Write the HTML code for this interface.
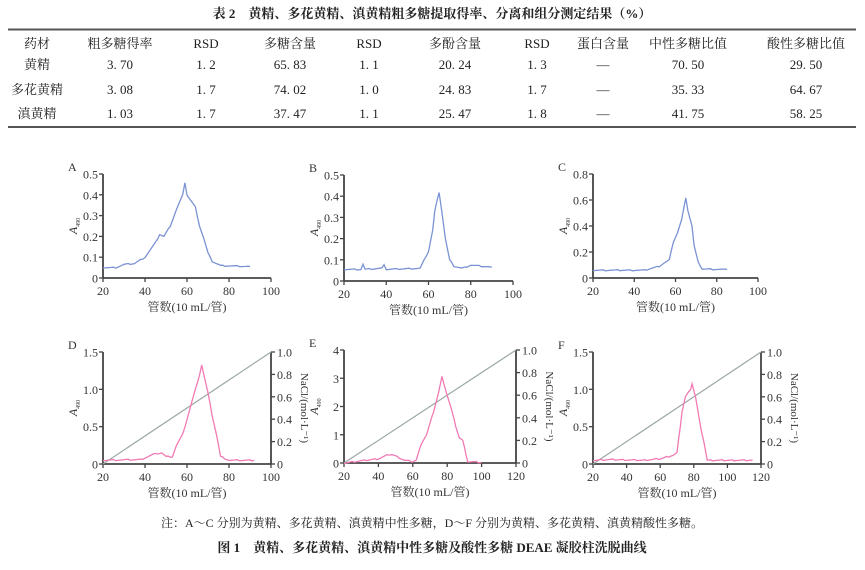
<!DOCTYPE html>
<html><head><meta charset="utf-8"><style>
body{margin:0;background:#fff;}
svg text{font-family:"Liberation Serif","Noto Serif CJK SC",serif;}
</style></head><body>
<svg id="s" width="865" height="565" viewBox="0 0 865 565" xmlns="http://www.w3.org/2000/svg">
<text x="432" y="18" text-anchor="middle" font-size="13" font-weight="bold" fill="#222" font-family="Liberation Sans, Noto Sans CJK SC, sans-serif">表 2　黄精、多花黄精、滇黄精粗多糖提取得率、分离和组分测定结果（%）</text>
<line x1="8" y1="29.5" x2="856" y2="29.5" stroke="#555" stroke-width="2"/>
<line x1="8" y1="127" x2="856" y2="127" stroke="#555" stroke-width="2"/>
<g font-size="13" fill="#222" text-anchor="middle" font-family="Liberation Sans, Noto Sans CJK SC, sans-serif">
<text x="37" y="48">药材</text><text x="120" y="48">粗多糖得率</text><text x="206" y="48">RSD</text><text x="290" y="48">多糖含量</text><text x="369" y="48">RSD</text><text x="455" y="48">多酚含量</text><text x="537" y="48">RSD</text><text x="603" y="48">蛋白含量</text><text x="688" y="48">中性多糖比值</text><text x="806" y="48">酸性多糖比值</text>
<text x="37" y="69">黄精</text><text x="120" y="69">3. 70</text><text x="206" y="69">1. 2</text><text x="290" y="69">65. 83</text><text x="369" y="69">1. 1</text><text x="455" y="69">20. 24</text><text x="537" y="69">1. 3</text><text x="603" y="69">—</text><text x="688" y="69">70. 50</text><text x="806" y="69">29. 50</text>
<text x="37" y="94">多花黄精</text><text x="120" y="94">3. 08</text><text x="206" y="94">1. 7</text><text x="290" y="94">74. 02</text><text x="369" y="94">1. 0</text><text x="455" y="94">24. 83</text><text x="537" y="94">1. 7</text><text x="603" y="94">—</text><text x="688" y="94">35. 33</text><text x="806" y="94">64. 67</text>
<text x="37" y="118">滇黄精</text><text x="120" y="118">1. 03</text><text x="206" y="118">1. 7</text><text x="290" y="118">37. 47</text><text x="369" y="118">1. 1</text><text x="455" y="118">25. 47</text><text x="537" y="118">1. 8</text><text x="603" y="118">—</text><text x="688" y="118">41. 75</text><text x="806" y="118">58. 25</text>
</g>
<text x="432" y="527" text-anchor="middle" font-size="12" fill="#222" font-family="Liberation Sans, Noto Sans CJK SC, sans-serif">注：A～C 分别为黄精、多花黄精、滇黄精中性多糖，D～F 分别为黄精、多花黄精、滇黄精酸性多糖。</text>
<text x="432" y="552" text-anchor="middle" font-size="13" font-weight="bold" fill="#222">图 1　黄精、多花黄精、滇黄精中性多糖及酸性多糖 DEAE 凝胶柱洗脱曲线</text>
<g id="plots"></g>
</svg>
<script>
var NS="http://www.w3.org/2000/svg",g=document.getElementById("plots");
function el(t,a,txt){var e=document.createElementNS(NS,t);for(var k in a)e.setAttribute(k,a[k]);if(txt!=null)e.textContent=txt;g.appendChild(e);return e;}
function panel(p){
 var X=function(v){return p.x0+(v-p.xmin)/(p.xmax-p.xmin)*(p.xr-p.x0)};
 var Y=function(v){return p.yb-v/p.ymax*(p.yb-p.yt)};
 var ax="#444";
 el("line",{x1:p.x0,y1:p.yt,x2:p.x0,y2:p.yb,stroke:ax,"stroke-width":1.8});
 el("line",{x1:p.x0,y1:p.yb,x2:p.xr,y2:p.yb,stroke:ax,"stroke-width":1.8});
 p.yt_.forEach(function(t){var y=Y(t[0]);el("line",{x1:p.x0-4,y1:y,x2:p.x0,y2:y,stroke:ax,"stroke-width":1.3});el("text",{x:p.x0-5,y:y+4.5,"font-size":12,"text-anchor":"end",fill:"#333"},t[1]);});
 for(var v=p.xmin;v<=p.xmax;v+=20){var x=X(v);el("line",{x1:x,y1:p.yb,x2:x,y2:p.yb+4,stroke:ax,"stroke-width":1.3});el("text",{x:x,y:p.yb+17,"font-size":12,"text-anchor":"middle",fill:"#333"},v);}
 el("text",{x:(p.x0+p.xr)/2,y:p.yb+33,"font-size":12,"text-anchor":"middle",fill:"#333"},"管数(10 mL/管)");
 el("text",{x:p.x0-35,y:p.yt-3,"font-size":12,fill:"#333"},p.L);
 var ty=(p.yt+p.yb)/2,tx=p.x0-26;
 var t=el("text",{x:tx,y:ty,"font-size":12,"font-style":"italic","text-anchor":"middle",fill:"#333",transform:"rotate(-90 "+tx+" "+ty+")"},"A");
 var sub=document.createElementNS(NS,"tspan");sub.setAttribute("font-size","6");sub.setAttribute("font-style","normal");sub.setAttribute("dy","3");sub.textContent="490";t.appendChild(sub);
 if(p.nacl){
  el("line",{x1:p.xr,y1:p.yt,x2:p.xr,y2:p.yb,stroke:ax,"stroke-width":1.8});
  for(var i=0;i<=5;i++){var y=p.yb-i/5*(p.yb-p.yt);el("line",{x1:p.xr,y1:y,x2:p.xr+4,y2:y,stroke:ax,"stroke-width":1.3});el("text",{x:p.xr+6,y:y+4.5,"font-size":12,fill:"#333"},i==0?"0":(i==5?"1.0":"0."+(2*i)));}
  var rx=p.xr+30;el("text",{x:rx,y:ty,"font-size":11,"text-anchor":"middle",fill:"#333",transform:"rotate(90 "+rx+" "+ty+")"},"NaCl/(mol·L⁻¹)");
  el("line",{x1:p.x0,y1:p.yb,x2:p.xr,y2:p.yt,stroke:"#9aa8a4","stroke-width":1.2});
 }
 var d=p.d,pts=[];
 for(var i=0;i<d.length-1;i++){var a=d[i],b=d[i+1];for(var x=a[0];x<b[0];x+=1){var f=(x-a[0])/(b[0]-a[0]);var n=((x*7919)%13)/13-0.5;pts.push(X(x).toFixed(1)+","+Y(a[1]+(b[1]-a[1])*f+n*p.ymax*0.012).toFixed(1));}}
 pts.push(X(d[d.length-1][0])+","+Y(d[d.length-1][1]));
 el("polyline",{points:pts.join(" "),fill:"none",stroke:p.c,"stroke-width":1.3});
}
var blue="#7b93d4",pink="#f27ab4";
function t5(m,s){var r=[];for(var v=0;v<=m+1e-9;v+=s)r.push([v,v==0?"0":(Math.round(v*10)/10).toFixed(1)]);return r;}
panel({L:"A",x0:103,xr:271,yb:278,yt:174,xmin:20,xmax:100,ymax:.5,yt_:t5(.5,.1),c:blue,d:[[20,.05],[26,.05],[30,.065],[35,.07],[40,.1],[45,.17],[47,.21],[49,.2],[52,.25],[55,.33],[58,.4],[59,.46],[60,.4],[64,.34],[66,.25],[68,.19],[70,.12],[72,.08],[76,.06],[90,.055]]});
panel({L:"B",x0:344,xr:513,yb:281,yt:175,xmin:20,xmax:100,ymax:.5,yt_:t5(.5,.1),c:blue,d:[[20,.055],[28,.055],[29,.08],[30,.055],[38,.06],[39,.08],[40,.055],[56,.06],[58,.1],[60,.14],[62,.24],[63,.33],[65,.42],[66,.35],[68,.2],[70,.1],[72,.07],[76,.06],[80,.075],[90,.065]]});
panel({L:"C",x0:593,xr:758,yb:278,yt:174,xmin:20,xmax:100,ymax:.8,yt_:t5(.8,.2),c:blue,d:[[20,.06],[45,.06],[52,.09],[57,.14],[59,.28],[61,.35],[63,.45],[65,.62],[66,.52],[68,.4],[69,.25],[71,.12],[73,.07],[85,.065]]});
panel({L:"D",nacl:1,x0:103,xr:271,yb:464,yt:352,xmin:20,xmax:100,ymax:1.5,yt_:t5(1.5,.5),c:pink,d:[[20,.05],[38,.06],[44,.13],[48,.15],[50,.1],[53,.1],[55,.25],[58,.4],[62,.8],[64,1.0],[66,1.2],[67,1.33],[68,1.2],[70,.95],[72,.65],[74,.4],[76,.1],[80,.05],[92,.05]]});
panel({L:"E",nacl:1,x0:344,xr:516,yb:463,yt:350,xmin:20,xmax:120,ymax:4,yt_:[[0,"0"],[1,"1"],[2,"2"],[3,"3"],[4,"4"]],c:pink,d:[[20,0],[30,.08],[40,.15],[46,.3],[48,.3],[50,.25],[55,.1],[60,.05],[62,.1],[65,.7],[68,1],[72,1.8],[75,2.5],[77,3.05],[80,2.4],[82,2],[85,1.3],[87,.9],[89,.8],[92,.05],[100,.02]]});
panel({L:"F",nacl:1,x0:593,xr:761,yb:464,yt:352,xmin:20,xmax:120,ymax:1.5,yt_:t5(1.5,.5),c:pink,d:[[20,.05],[30,.06],[50,.05],[60,.07],[68,.12],[70,.15],[73,.7],[75,.9],[78,1.0],[79,1.08],[81,.9],[84,.5],[86,.3],[88,.05],[115,.05]]});
</script>
</body></html>
